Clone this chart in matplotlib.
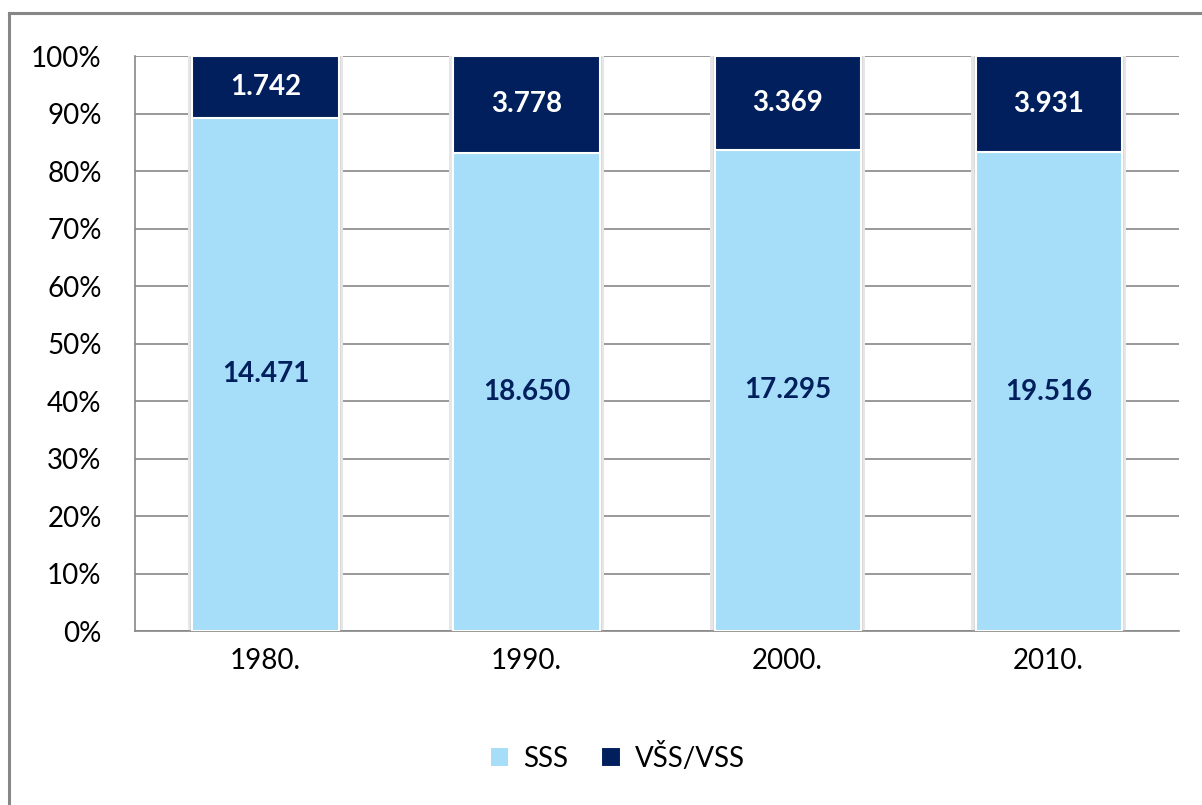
import numpy as np
import matplotlib.pyplot as plt
from matplotlib.patches import Rectangle

plt.rcParams['font.family'] = ['Lato', 'DejaVu Sans']

years = ['1980.', '1990.', '2000.', '2010.']
sss = np.array([14471, 18650, 17295, 19516])
vss = np.array([1742, 3778, 3369, 3931])
sss_labels = ['14.471', '18.650', '17.295', '19.516']
vss_labels = ['1.742', '3.778', '3.369', '3.931']

light = '#A6DDF8'
dark = '#001F5C'
grid = '#878787'

total = sss + vss
p_sss = sss / total * 100
p_vss = vss / total * 100

fig = plt.figure(figsize=(12.02, 8.05), dpi=100)
ax = fig.add_axes([0.1123, 0.2161, 0.8687, 0.7143])

x = np.arange(len(years))
w = 0.56

# soft shadow behind bars
ax.bar(x, 100, width=w + 0.035, color='#e6e6e6', zorder=2)
ax.bar(x, 100, width=w + 0.015, color='#d9d9d9', zorder=2)
ax.bar(x, p_sss, width=w, color=light, edgecolor='white', linewidth=1.5, zorder=3, label='SSS')
ax.bar(x, p_vss, width=w, bottom=p_sss, color=dark, edgecolor='white', linewidth=1.5, zorder=3, label='VŠS/VSS')

for i in range(len(years)):
    ax.text(x[i], p_sss[i] / 2, sss_labels[i], ha='center', va='center',
            fontsize=20, fontweight='bold', color=dark, zorder=4)
    ax.text(x[i], p_sss[i] + p_vss[i] / 2, vss_labels[i], ha='center', va='center',
            fontsize=20, fontweight='bold', color='white', zorder=4)

ax.set_xlim(-0.5, len(years) - 0.5)
ax.set_ylim(0, 100)
ax.set_yticks(np.arange(0, 101, 10))
ax.set_yticklabels([f'{v}%' for v in range(0, 101, 10)])
ax.set_xticks(x)
ax.set_xticklabels(years)
ax.tick_params(axis='y', length=0, pad=24, labelsize=20)
ax.tick_params(axis='x', length=0, pad=12, labelsize=20)
ax.yaxis.grid(True, color=grid, linewidth=1.2, zorder=0)
ax.set_axisbelow(True)
for s in ['top', 'right']:
    ax.spines[s].set_visible(False)
for s in ['left', 'bottom']:
    ax.spines[s].set_color(grid)
    ax.spines[s].set_linewidth(1.2)

fig.legend(loc='center', bbox_to_anchor=(617 / 1202, 1 - 757 / 805), ncol=2,
           frameon=False, fontsize=20, handlelength=0.7, handleheight=0.7,
           handletextpad=0.5, columnspacing=1.2)

# outer chart border (left and top visible)
fig.add_artist(plt.Line2D([9 / 1202, 9 / 1202], [0, 1 - 13 / 805], color=grid, linewidth=2.2,
                          transform=fig.transFigure))
fig.add_artist(plt.Line2D([9 / 1202, 1], [1 - 13 / 805, 1 - 13 / 805], color=grid, linewidth=2.2,
                          transform=fig.transFigure))

fig.savefig('out.png', dpi=100)
